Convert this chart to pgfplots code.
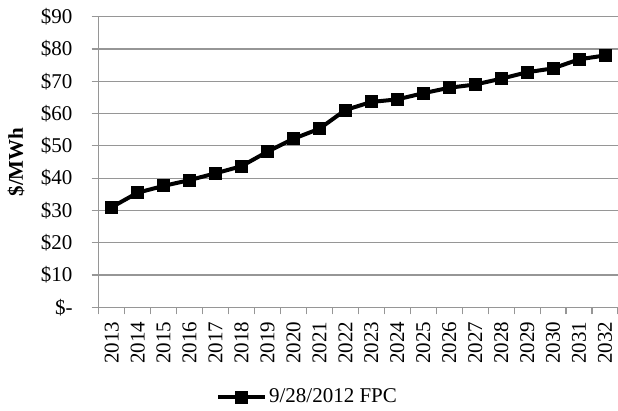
\documentclass[border=0pt]{standalone}
\usepackage{pgfplots}
\pgfplotsset{compat=1.18}
\usepackage{fontspec}
\setmainfont{Liberation Serif}
\definecolor{gridgray}{RGB}{150,150,150}

\begin{document}
\fontsize{21}{25}\selectfont
\begin{tikzpicture}
\useasboundingbox (-98.7pt,-102.7pt) rectangle (519.3pt,307.3pt);
\begin{axis}[
  at={(0,0)}, anchor=south west,
  scale only axis,
  width=519.3pt, height=290.6pt,
  xmin=-0.5, xmax=19.5,
  ymin=0, ymax=90,
  axis x line*=bottom, axis y line*=left,
  axis line style={gridgray, line width=1.2pt},
  xtick={0,...,19},
  xticklabels={2013,2014,2015,2016,2017,2018,2019,2020,2021,2022,2023,2024,2025,2026,2027,2028,2029,2030,2031,2032},
  major x tick style={draw=none},
  minor xtick={-0.5,0.5,...,19.5},
  minor x tick style={gridgray, line width=1.2pt},
  minor tick length=7pt,
  ytick={0,10,...,90},
  yticklabels={\$-,\$10,\$20,\$30,\$40,\$50,\$60,\$70,\$80,\$90},
  major y tick style={gridgray, line width=1.2pt},
  major tick length=7pt,
  tick align=outside,
  ymajorgrids,
  grid style={gridgray, line width=1.2pt},
  xticklabel style={rotate=90, anchor=east, font=\fontsize{21}{25}\selectfont},
  yticklabel style={font=\fontsize{21}{25}\selectfont, xshift=-12pt},
  ylabel={\textbf{\$/MWh}},
  ylabel style={font=\fontsize{21}{25}\selectfont, at={(axis description cs:-0.159,0.5)}, anchor=center},
  legend style={at={(axis description cs:0.22,-0.31)}, anchor=west, draw=none, fill=none,
    font=\fontsize{21}{25}\selectfont},
  legend image code/.code={\draw[mark repeat=2, mark phase=2, #1] plot coordinates {(0pt,0pt) (23.5pt,0pt) (47pt,0pt)};},
]
\addplot[black, line width=4pt, mark=square*, mark size=6pt, mark options={solid, line width=0pt}]
  coordinates {
  (0,31.0) (1,35.5) (2,37.6) (3,39.4) (4,41.5) (5,43.7) (6,48.2) (7,52.2) (8,55.3) (9,61.1)
  (10,63.6) (11,64.4) (12,66.3) (13,68.0) (14,69.0) (15,70.8) (16,72.8) (17,74.0) (18,76.8) (19,78.0)
  };
\addlegendentry{9/28/2012 FPC}
\end{axis}
\end{tikzpicture}
\end{document}
